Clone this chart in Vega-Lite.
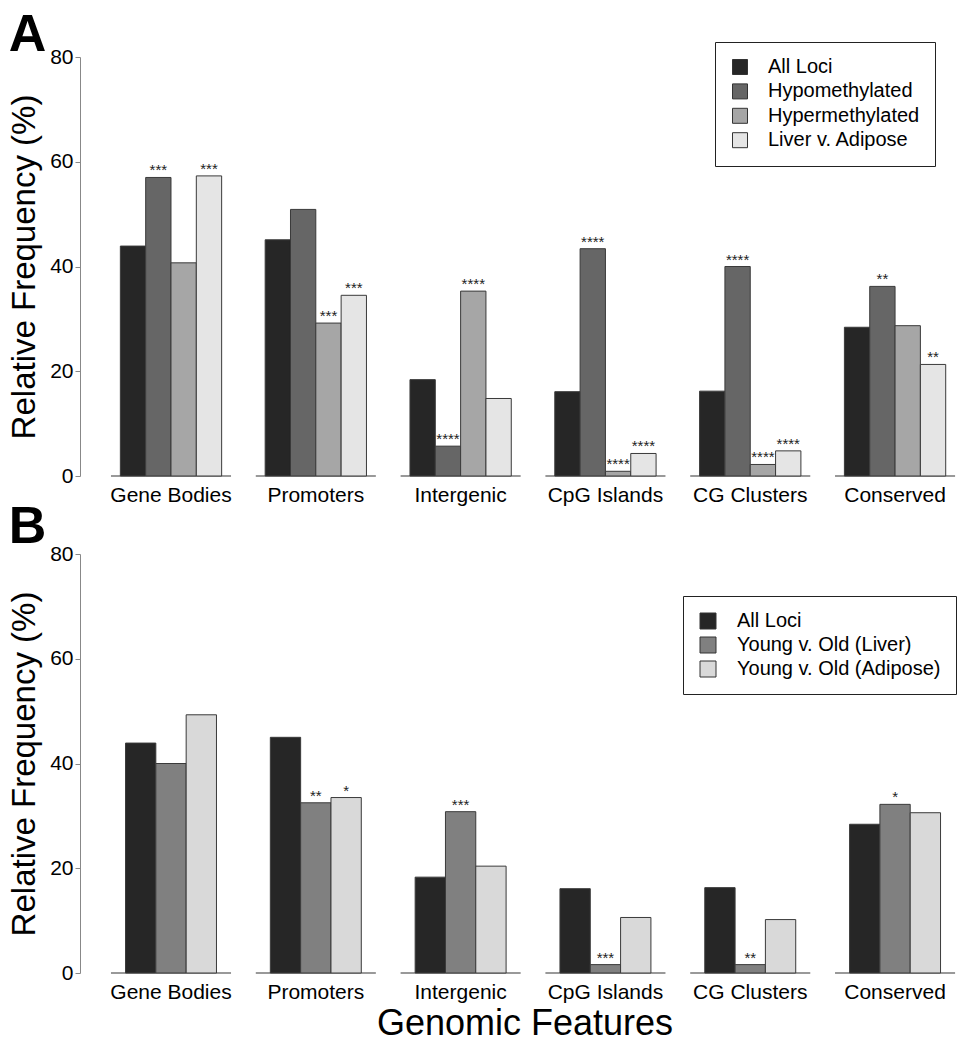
{
  "$schema": "https://vega.github.io/schema/vega-lite/v6.json",
  "padding": {"left": 8, "top": 8, "right": 0, "bottom": 5},
  "background": "white",
  "config": {"font": "Liberation Sans", "view": {"stroke": null}, "concat": {"spacing": -4}},
  "datasets": {
    "a": [
      {"feature": "Gene Bodies", "series": "All Loci", "value": 43.9, "sig": ""},
      {"feature": "Gene Bodies", "series": "Hypomethylated", "value": 57.0, "sig": "***"},
      {"feature": "Gene Bodies", "series": "Hypermethylated", "value": 40.7, "sig": ""},
      {"feature": "Gene Bodies", "series": "Liver v. Adipose", "value": 57.3, "sig": "***"},
      {"feature": "Promoters", "series": "All Loci", "value": 45.1, "sig": ""},
      {"feature": "Promoters", "series": "Hypomethylated", "value": 50.9, "sig": ""},
      {"feature": "Promoters", "series": "Hypermethylated", "value": 29.2, "sig": "***"},
      {"feature": "Promoters", "series": "Liver v. Adipose", "value": 34.5, "sig": "***"},
      {"feature": "Intergenic", "series": "All Loci", "value": 18.4, "sig": ""},
      {"feature": "Intergenic", "series": "Hypomethylated", "value": 5.7, "sig": "****"},
      {"feature": "Intergenic", "series": "Hypermethylated", "value": 35.3, "sig": "****"},
      {"feature": "Intergenic", "series": "Liver v. Adipose", "value": 14.8, "sig": ""},
      {"feature": "CpG Islands", "series": "All Loci", "value": 16.1, "sig": ""},
      {"feature": "CpG Islands", "series": "Hypomethylated", "value": 43.4, "sig": "****"},
      {"feature": "CpG Islands", "series": "Hypermethylated", "value": 0.9, "sig": "****"},
      {"feature": "CpG Islands", "series": "Liver v. Adipose", "value": 4.3, "sig": "****"},
      {"feature": "CG Clusters", "series": "All Loci", "value": 16.2, "sig": ""},
      {"feature": "CG Clusters", "series": "Hypomethylated", "value": 40.0, "sig": "****"},
      {"feature": "CG Clusters", "series": "Hypermethylated", "value": 2.2, "sig": "****"},
      {"feature": "CG Clusters", "series": "Liver v. Adipose", "value": 4.8, "sig": "****"},
      {"feature": "Conserved", "series": "All Loci", "value": 28.4, "sig": ""},
      {"feature": "Conserved", "series": "Hypomethylated", "value": 36.2, "sig": "**"},
      {"feature": "Conserved", "series": "Hypermethylated", "value": 28.7, "sig": ""},
      {"feature": "Conserved", "series": "Liver v. Adipose", "value": 21.3, "sig": "**"}
    ],
    "b": [
      {"feature": "Gene Bodies", "series": "All Loci", "value": 43.9, "sig": ""},
      {"feature": "Gene Bodies", "series": "Young v. Old (Liver)", "value": 40.0, "sig": ""},
      {"feature": "Gene Bodies", "series": "Young v. Old (Adipose)", "value": 49.3, "sig": ""},
      {"feature": "Promoters", "series": "All Loci", "value": 45.0, "sig": ""},
      {"feature": "Promoters", "series": "Young v. Old (Liver)", "value": 32.5, "sig": "**"},
      {"feature": "Promoters", "series": "Young v. Old (Adipose)", "value": 33.5, "sig": "*"},
      {"feature": "Intergenic", "series": "All Loci", "value": 18.3, "sig": ""},
      {"feature": "Intergenic", "series": "Young v. Old (Liver)", "value": 30.8, "sig": "***"},
      {"feature": "Intergenic", "series": "Young v. Old (Adipose)", "value": 20.4, "sig": ""},
      {"feature": "CpG Islands", "series": "All Loci", "value": 16.1, "sig": ""},
      {"feature": "CpG Islands", "series": "Young v. Old (Liver)", "value": 1.6, "sig": "***"},
      {"feature": "CpG Islands", "series": "Young v. Old (Adipose)", "value": 10.6, "sig": ""},
      {"feature": "CG Clusters", "series": "All Loci", "value": 16.3, "sig": ""},
      {"feature": "CG Clusters", "series": "Young v. Old (Liver)", "value": 1.6, "sig": "**"},
      {"feature": "CG Clusters", "series": "Young v. Old (Adipose)", "value": 10.2, "sig": ""},
      {"feature": "Conserved", "series": "All Loci", "value": 28.4, "sig": ""},
      {"feature": "Conserved", "series": "Young v. Old (Liver)", "value": 32.2, "sig": "*"},
      {"feature": "Conserved", "series": "Young v. Old (Adipose)", "value": 30.6, "sig": ""}
    ]
  },
  "vconcat": [
    {
      "width": 889,
      "height": 419,
      "title": {"text": "A", "anchor": "start", "frame": "bounds", "fontSize": 52, "fontWeight": "bold", "baseline": "alphabetic", "offset": -61, "color": "black"},
      "data": {"name": "a"},
      "encoding": {
        "x": {
          "field": "feature", "type": "nominal",
          "sort": ["Gene Bodies", "Promoters", "Intergenic", "CpG Islands", "CG Clusters", "Conserved"],
          "scale": {"paddingInner": 0.171, "paddingOuter": 0.155, "align": 0.69},
          "axis": {"title": null, "labelAngle": 0, "domain": false, "ticks": false, "labelFontSize": 21, "labelPadding": 8, "labelColor": "black"}
        }
      },
      "layer": [
        {
          "transform": [{"filter": "datum.series === 'All Loci'"}],
          "mark": {"type": "bar", "fillOpacity": 0, "stroke": "#999999", "strokeWidth": 2},
          "encoding": {
            "y": {"datum": 0, "type": "quantitative"},
            "y2": {"datum": 0}
          }
        },
        {
          "mark": {"type": "bar", "stroke": "#3a3a3a", "strokeWidth": 1},
          "encoding": {
            "xOffset": {"field": "series", "type": "nominal", "sort": ["All Loci", "Hypomethylated", "Hypermethylated", "Liver v. Adipose"], "scale": {"paddingInner": 0, "paddingOuter": 0.37}},
            "y": {
              "field": "value", "type": "quantitative",
              "scale": {"domain": [0, 80], "nice": false},
              "axis": {"values": [0, 20, 40, 60, 80], "grid": false, "domainColor": "#888888", "tickColor": "#888888", "tickSize": 5, "labelFontSize": 21, "labelPadding": 2, "labelColor": "black", "title": "Relative Frequency (%)", "titleFontSize": 33, "titleFontWeight": "normal", "titleColor": "black", "titlePadding": 8}
            },
            "fill": {
              "field": "series", "type": "nominal",
              "scale": {"domain": ["All Loci", "Hypomethylated", "Hypermethylated", "Liver v. Adipose"], "range": ["#262626", "#666666", "#a6a6a6", "#e5e5e5"]},
              "legend": {"orient": "none", "legendX": 635, "legendY": -15, "title": null, "strokeColor": "#222222", "fillColor": "white", "padding": 15, "symbolType": "square", "symbolSize": 225, "symbolStrokeColor": "#333333", "symbolStrokeWidth": 1, "labelFontSize": 20, "labelOffset": 18, "labelLimit": 400, "rowPadding": 4.4, "labelColor": "black"}
            }
          }
        },
        {
          "mark": {"type": "text", "baseline": "alphabetic", "dy": -2, "fontSize": 15, "color": "#222222"},
          "encoding": {
            "xOffset": {"field": "series", "type": "nominal", "sort": ["All Loci", "Hypomethylated", "Hypermethylated", "Liver v. Adipose"]},
            "y": {"field": "value", "type": "quantitative"},
            "text": {"field": "sig"}
          }
        }
      ]
    },
    {
      "width": 889,
      "height": 419,
      "title": {"text": "B", "anchor": "start", "frame": "bounds", "fontSize": 52, "fontWeight": "bold", "baseline": "alphabetic", "offset": -52, "color": "black"},
      "data": {"name": "b"},
      "encoding": {
        "x": {
          "field": "feature", "type": "nominal",
          "sort": ["Gene Bodies", "Promoters", "Intergenic", "CpG Islands", "CG Clusters", "Conserved"],
          "scale": {"paddingInner": 0.171, "paddingOuter": 0.155, "align": 0.69},
          "axis": {"title": "Genomic Features", "titleFontSize": 36, "titleFontWeight": "normal", "titleColor": "black", "titlePadding": 4, "labelAngle": 0, "domain": false, "ticks": false, "labelFontSize": 21, "labelPadding": 8, "labelColor": "black"}
        }
      },
      "layer": [
        {
          "transform": [{"filter": "datum.series === 'All Loci'"}],
          "mark": {"type": "bar", "fillOpacity": 0, "stroke": "#999999", "strokeWidth": 2},
          "encoding": {
            "y": {"datum": 0, "type": "quantitative"},
            "y2": {"datum": 0}
          }
        },
        {
          "mark": {"type": "bar", "stroke": "#3a3a3a", "strokeWidth": 1},
          "encoding": {
            "xOffset": {"field": "series", "type": "nominal", "sort": ["All Loci", "Young v. Old (Liver)", "Young v. Old (Adipose)"], "scale": {"paddingInner": 0, "paddingOuter": 0.48}},
            "y": {
              "field": "value", "type": "quantitative",
              "scale": {"domain": [0, 80], "nice": false},
              "axis": {"values": [0, 20, 40, 60, 80], "grid": false, "domainColor": "#888888", "tickColor": "#888888", "tickSize": 5, "labelFontSize": 21, "labelPadding": 2, "labelColor": "black", "title": "Relative Frequency (%)", "titleFontSize": 33, "titleFontWeight": "normal", "titleColor": "black", "titlePadding": 8}
            },
            "fill": {
              "field": "series", "type": "nominal",
              "scale": {"domain": ["All Loci", "Young v. Old (Liver)", "Young v. Old (Adipose)"], "range": ["#262626", "#808080", "#d9d9d9"]},
              "legend": {"orient": "none", "legendX": 603, "legendY": 42, "title": null, "strokeColor": "#222222", "fillColor": "white", "padding": 15, "symbolType": "square", "symbolSize": 256, "symbolStrokeColor": "#333333", "symbolStrokeWidth": 1, "labelFontSize": 20, "labelOffset": 19, "labelLimit": 400, "rowPadding": 4, "labelColor": "black"}
            }
          }
        },
        {
          "mark": {"type": "text", "baseline": "alphabetic", "dy": -2, "fontSize": 15, "color": "#222222"},
          "encoding": {
            "xOffset": {"field": "series", "type": "nominal", "sort": ["All Loci", "Young v. Old (Liver)", "Young v. Old (Adipose)"]},
            "y": {"field": "value", "type": "quantitative"},
            "text": {"field": "sig"}
          }
        }
      ]
    }
  ],
  "resolve": {"scale": {"fill": "independent", "xOffset": "independent"}, "legend": {"fill": "independent"}}
}
